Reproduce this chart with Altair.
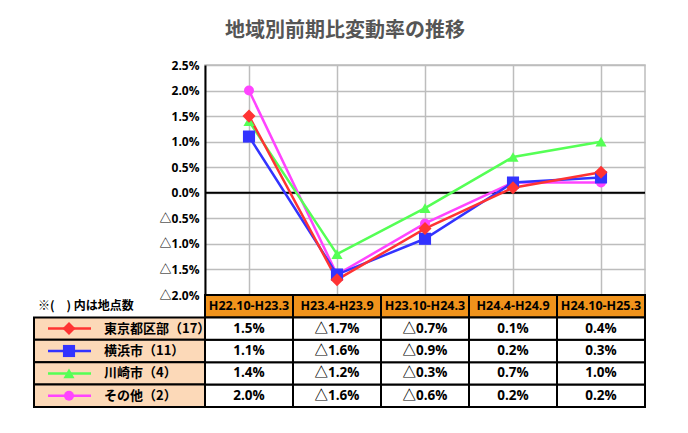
import altair as alt
import pandas as pd

# ---- data ----
periods = ["H22.10-H23.3", "H23.4-H23.9", "H23.10-H24.3", "H24.4-H24.9", "H24.10-H25.3"]
series_names = ["東京都区部（17）", "横浜市（11）", "川崎市（4）", "その他（2）"]
tokyo = [1.5, -1.7, -0.7, 0.1, 0.4]
yokohama = [1.1, -1.6, -0.9, 0.2, 0.3]
kawasaki = [1.4, -1.2, -0.3, 0.7, 1.0]
others = [2.0, -1.6, -0.6, 0.2, 0.2]
y_ticks = [-2.0, -1.5, -1.0, -0.5, 0.0, 0.5, 1.0, 1.5, 2.0, 2.5]
title_text = "地域別前期比変動率の推移"
note_text = "※(　) 内は地点数"

# ---- styles ----
series_colors = ["#FF3333", "#3333FF", "#55FF55", "#FF44FF"]
series_shapes = ["diamond", "square", "triangle-up", "circle"]
series_sizes = [170, 100, 150, 130]
NUM_FONT = "Open Sans, Noto Sans CJK JP"
JP_FONT = "Noto Sans CJK JP"

values = [tokyo, yokohama, kawasaki, others]
draw_order = [3, 2, 1, 0]


def fmt(v):
    return ("△%.1f%%" % -v) if v < 0 else ("%.1f%%" % v)


recs = []
for i in draw_order:
    for j, (p, v) in enumerate(zip(periods, values[i])):
        recs.append({"period": p, "idx": j, "series": series_names[i],
                     "row": series_names[i], "value": v, "label": fmt(v)})
df = pd.DataFrame(recs)

color = alt.Color("series:N", scale=alt.Scale(domain=series_names, range=series_colors), legend=None)
shape = alt.Shape("series:N", scale=alt.Scale(domain=series_names, range=series_shapes), legend=None)
size = alt.Size("series:N", scale=alt.Scale(domain=series_names, range=series_sizes), legend=None)

W, H = 440, 230

x_pt = alt.X("period:N", sort=periods,
             scale=alt.Scale(type="point", domain=periods, padding=0.5),
             axis=alt.Axis(labels=False, ticks=False, domain=False, title=None, grid=True,
                           gridColor="#BDBDBD", gridWidth=1.5))
label_expr = ("datum.value < 0 ? '△' + format(-datum.value, '.1f') + '%' "
              ": format(datum.value, '.1f') + '%'")
y_q = alt.Y("value:Q", scale=alt.Scale(domain=[-2.0, 2.5], nice=False, zero=False),
            axis=alt.Axis(values=y_ticks, labelExpr=label_expr, title=None, ticks=False,
                          grid=True, gridColor="#BDBDBD", gridWidth=1.5,
                          domainColor="black", domainWidth=2,
                          labelFont=NUM_FONT, labelFontSize=12, labelFontWeight="bold",
                          labelColor="black", labelPadding=6, labelOverlap=False))

zero_rule = alt.Chart(pd.DataFrame({"value": [0.0]})).mark_rule(
    color="black", strokeWidth=2).encode(y=y_q)
lines = alt.Chart(df).mark_line(strokeWidth=2.5).encode(
    x=x_pt, y=y_q, color=color, order=alt.Order("idx:Q"))
points = alt.Chart(df).mark_point(filled=True, opacity=1, strokeWidth=0).encode(
    x=x_pt, y=y_q, color=color, shape=shape, size=size)

top = alt.layer(zero_rule, lines, points).properties(
    width=W, height=H,
    title=alt.Title(title_text, anchor="middle", dx=-80, offset=18, fontSize=20,
                    font=JP_FONT, fontWeight="bold", color="#555555"))

# ---- table ----
rows_domain = ["header"] + series_names
x_band = alt.X("period:N", scale=alt.Scale(type="band", domain=periods, paddingInner=0,
                                            paddingOuter=0), axis=None)
y_band = alt.Y("row:N", scale=alt.Scale(type="band", domain=rows_domain, paddingInner=0,
                                         paddingOuter=0), axis=None)

hdr = pd.DataFrame({"period": periods, "row": ["header"] * len(periods)})
leg = pd.DataFrame({"series": series_names, "row": series_names})
note = pd.DataFrame({"row": ["header"], "text": [note_text]})

hdr_rect = alt.Chart(hdr).mark_rect(fill="#F0931C", stroke="black", strokeWidth=2).encode(
    x=x_band, y=y_band)
hdr_text = alt.Chart(hdr).mark_text(font=NUM_FONT, fontSize=12.5, fontWeight="bold",
                                    color="black").encode(x=x_band, y=y_band, text="period:N")
cell_rect = alt.Chart(df).mark_rect(fill="white", stroke="black", strokeWidth=2).encode(
    x=x_band, y=y_band)
cell_text = alt.Chart(df).mark_text(font=NUM_FONT, fontSize=13.5, fontWeight="bold",
                                    color="black").encode(x=x_band, y=y_band, text="label:N")
leg_rect = alt.Chart(leg).mark_rect(fill="#FCD9B8", stroke="black", strokeWidth=2).encode(
    x=alt.value(-171), x2=alt.value(0), y=y_band)
leg_line = alt.Chart(leg).mark_rule(strokeWidth=2.5).encode(
    x=alt.value(-157), x2=alt.value(-114), y=y_band, color=color)
leg_pt = alt.Chart(leg).mark_point(filled=True, opacity=1, strokeWidth=0).encode(
    x=alt.value(-136), y=y_band, color=color, shape=shape, size=size)
leg_text = alt.Chart(leg).mark_text(font=JP_FONT, fontSize=13, fontWeight="bold", align="left",
                                    color="black").encode(
    x=alt.value(-101), y=y_band, text="series:N")
note_mark = alt.Chart(note).mark_text(font=JP_FONT, fontSize=12, fontWeight="bold",
                                      align="left", color="black").encode(
    x=alt.value(-167), y=y_band, text="text:N")

table = alt.layer(hdr_rect, hdr_text, cell_rect, cell_text, leg_rect, leg_line, leg_pt,
                  leg_text, note_mark).properties(width=W, height=112)

chart = alt.vconcat(top, table, spacing=0, bounds="flush").resolve_scale(
    x="independent", y="independent"
).properties(
    padding={"left": 24, "top": 12, "right": 10, "bottom": 10},
    background="white",
).configure_view(stroke="#BDBDBD", strokeWidth=1.5)

chart.save("out.html", embed_options={"renderer": "svg", "actions": False})
